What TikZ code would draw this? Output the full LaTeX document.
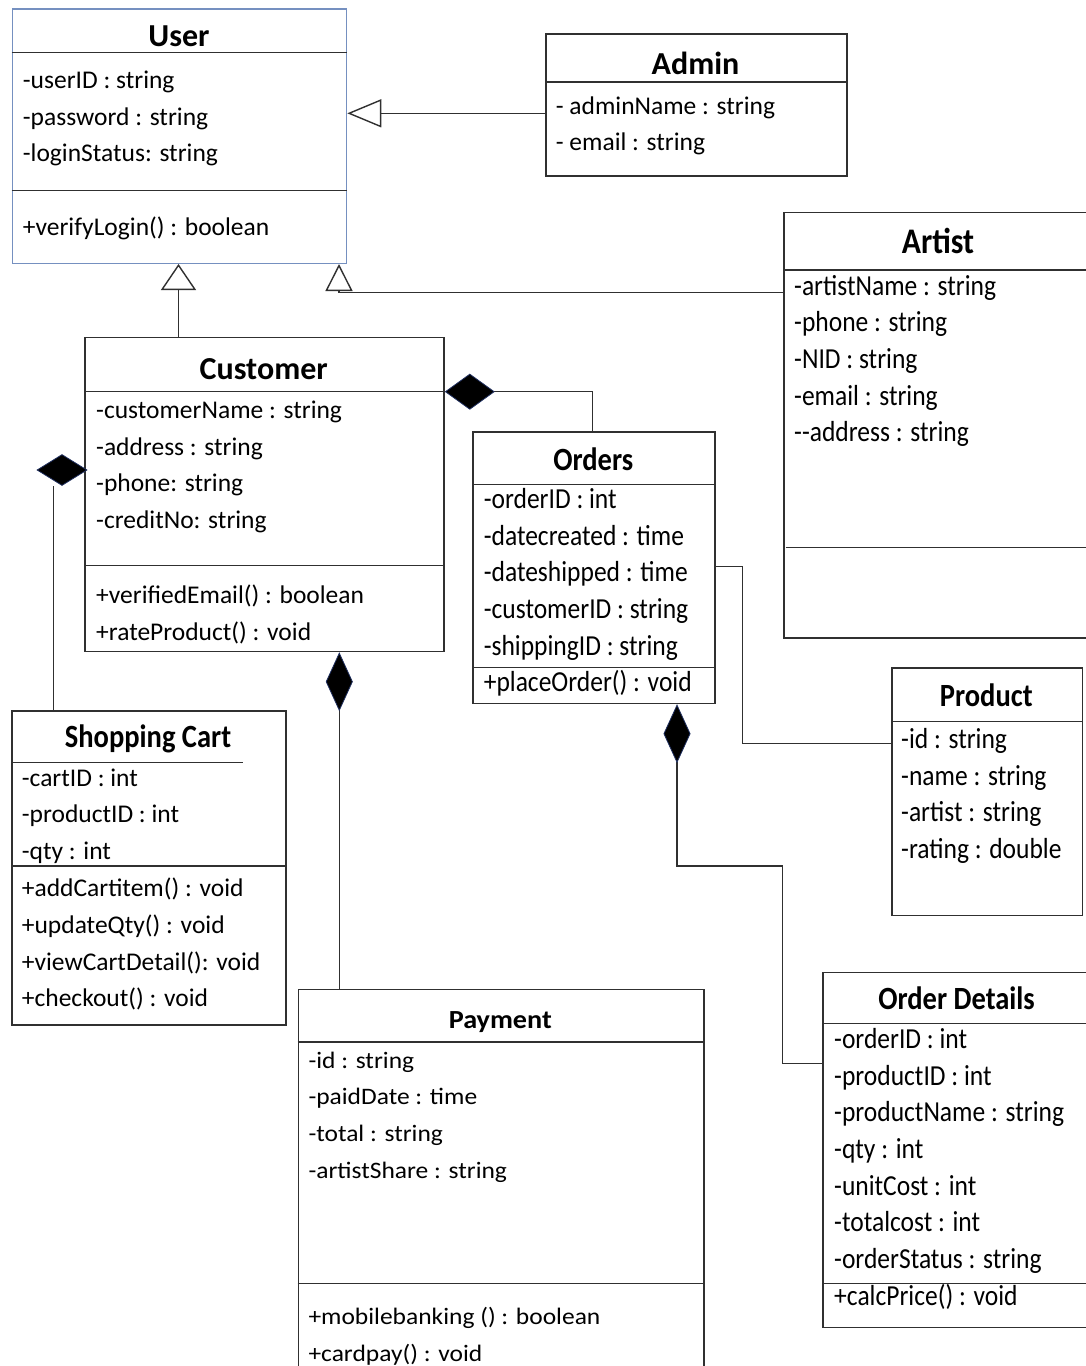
\documentclass[tikz,border=0pt]{standalone}
\usepackage{fontspec}
\setmainfont{Carlito}
\newfontfamily\condfont[FakeStretch=0.88]{Carlito}
\newfontfamily\widefont[FakeStretch=1.08]{Carlito}
\usetikzlibrary{arrows.meta,shapes.geometric}
\definecolor{edge}{HTML}{303030}
\definecolor{userblue}{HTML}{7590C0}
\definecolor{tipblue}{HTML}{1F2F5F}

% rows of class members: prefix, style, x, first baseline, list
\newcommand\classrows[5]{%
  \foreach \rowtext [count=\i from 1] in {#5} {%
    \node[#2] (#1-\i) at (#3,{#4+(\i-1)*36.7}) {\rowtext};}}

\tikzset{
  box/.style={draw=edge, line width=1.5pt, inner sep=0pt, anchor=north west, fill=white},
  rule/.style={draw=edge, line width=1.5pt},
  link/.style={draw=edge, line width=1.4pt},
  attr/.style={anchor=base west, inner sep=0pt, font=\fontsize{25.5}{30}\selectfont},
  attrC/.style={anchor=base west, inner sep=0pt, font=\condfont\fontsize{29}{34}\selectfont},
  attrW/.style={anchor=base west, inner sep=0pt, font=\widefont\fontsize{23.6}{30}\selectfont},
  ttl/.style={anchor=base, inner sep=0pt, font=\bfseries\fontsize{32}{36}\selectfont},
  ttlC/.style={anchor=base, inner sep=0pt, font=\condfont\bfseries\fontsize{32.4}{36}\selectfont},
  ttlW/.style={anchor=base, inner sep=0pt, font=\widefont\bfseries\fontsize{26.1}{30}\selectfont},
  tri/.style 2 args={-{Triangle[open,length=#1,width=#2,line join=miter,fill=white]}},
  dia/.style 2 args={-{Diamond[length=#1,width=#2,line join=miter,line width=0.8pt,color=tipblue,fill=black]}},
  diamondnode/.style={diamond, fill=black, draw=tipblue, line width=0.8pt, inner sep=0pt,
    minimum width=50pt, minimum height=31pt}
}

\begin{document}
\begin{tikzpicture}[x=1pt,y=-1pt]
\useasboundingbox (0,0) rectangle (1086,1366);
\fill[white] (0,0) rectangle (1086,1366);
\clip (0,0) rectangle (1086,1366);

% ---------- User ----------
\node[box, draw=userblue, line width=1.3pt, minimum width=334.3pt, minimum height=254.4pt] (user) at (11.7,8.3) {};
\draw[rule] (user.west |- 0,52.7) -- (user.east |- 0,52.7);
\draw[rule] (user.west |- 0,190.7) -- (user.east |- 0,190.7);
\node[ttl] (user-title) at (179,46.7) {User};
\classrows{user-a}{attr}{22.7}{88.3}{{-userID : string},{-password : string},{-loginStatus: string}}
\node[attr] (user-m1) at (22.7,235) {+verifyLogin() : boolean};

% ---------- Admin ----------
\node[box, minimum width=301pt, minimum height=141.7pt] (admin) at (545,33.3) {};
\draw[rule] (admin.west |- 0,82) -- (admin.east |- 0,82);
\node[ttl] (admin-title) at (695.5,74) {Admin};
\node[attr] (admin-a1) at (555.7,114.3) {- adminName : string};
\node[attr] (admin-a2) at (555.7,150.3) {- email : string};

% ---------- Artist ----------
\node[box, minimum width=310pt, minimum height=425.6pt] (artist) at (783,211.7) {};
\draw[rule] (artist.west |- 0,270) -- (artist.east |- 0,270);
\draw[rule] ([xshift=2.6pt]artist.west |- 0,547.7) -- (artist.east |- 0,547.7);
\node[ttlC, font=\condfont\bfseries\fontsize{36}{40}\selectfont] (artist-title) at (938,253) {Artist};
\classrows{artist-a}{attrC}{794}{295}{{-artistName : string},{-phone : string},{-NID : string},{-email : string},{--address : string}}

% ---------- Customer ----------
\node[box, minimum width=359.3pt, minimum height=314pt] (customer) at (84,336.7) {};
\draw[rule] (customer.west |- 0,391.7) -- (customer.east |- 0,391.7);
\draw[rule] (customer.west |- 0,565.3) -- (customer.east |- 0,565.3);
\node[ttl] (customer-title) at (263.7,379.3) {Customer};
\classrows{customer-a}{attr}{96}{418.3}{{-customerName : string},{-address : string},{-phone: string},{-creditNo: string}}
\classrows{customer-m}{attr}{96}{603.3}{{+verifiedEmail() : boolean},{+rateProduct() : void}}

% ---------- Orders ----------
\node[box, minimum width=241.8pt, minimum height=271.7pt] (orders) at (472.4,431) {};
\draw[rule] (orders.west |- 0,484.3) -- (orders.east |- 0,484.3);
\draw[rule] (orders.west |- 0,667.7) -- (orders.east |- 0,667.7);
\node[ttlC] (orders-title) at (593.3,470) {Orders};
\classrows{orders-a}{attrC}{483.6}{508.3}{{-orderID : int},{-datecreated : time},{-dateshipped : time},{-customerID : string},{-shippingID : string}}
\node[attrC] (orders-m1) at (483.6,691.7) {+placeOrder() : void};

% ---------- Product ----------
\node[box, minimum width=190.7pt, minimum height=247.2pt] (product) at (891,667.3) {};
\draw[rule] (product.west |- 0,721.7) -- (product.east |- 0,721.7);
\node[ttlC] (product-title) at (986.3,706) {Product};
\classrows{product-a}{attrC}{901}{748.3}{{-id : string},{-name : string},{-artist : string},{-rating : double}}

% ---------- Shopping Cart ----------
\node[box, minimum width=274pt, minimum height=314pt] (cart) at (11,710) {};
\draw[rule] (cart.west |- 0,762.3) -- (242.7,762.3);
\draw[rule] (cart.west |- 0,866) -- (cart.east |- 0,866);
\node[ttlC] (cart-title) at (148,747.7) {Shopping Cart};
\classrows{cart-a}{attr}{21.7}{786}{{-cartID : int},{-productID : int},{-qty : int}}
\classrows{cart-m}{attr}{21.7}{896.7}{{+addCartitem() : void},{+updateQty() : void},{+viewCartDetail(): void},{+checkout() : void}}

% ---------- Payment ----------
\node[box, minimum width=405.5pt, minimum height=391.4pt] (payment) at (297.5,988.6) {};
\draw[rule] (payment.west |- 0,1041.9) -- (payment.east |- 0,1041.9);
\draw[rule] (payment.west |- 0,1283.5) -- (payment.east |- 0,1283.5);
\node[ttlW] (payment-title) at (500.3,1028) {Payment};
\classrows{payment-a}{attrW}{308.3}{1068}{{-id : string},{-paidDate : time},{-total : string},{-artistShare : string}}
\classrows{payment-m}{attrW}{308.3}{1324.3}{{+mobilebanking () : boolean},{+cardpay() : void}}

% ---------- Order Details ----------
\node[box, minimum width=268.7pt, minimum height=355pt] (details) at (822.3,971.7) {};
\draw[rule] (details.west |- 0,1023.7) -- (details.east |- 0,1023.7);
\draw[rule] (details.west |- 0,1283.3) -- (details.east |- 0,1283.3);
\node[ttlC] (details-title) at (956.6,1009.3) {Order Details};
\classrows{details-a}{attrC}{834}{1048.3}{{-orderID : int},{-productID : int},{-productName : string},{-qty : int},{-unitCost : int},{-totalcost : int},{-orderStatus : string}}
\node[attrC] (details-m1) at (834,1305) {+calcPrice() : void};

% ---------- generalisations ----------
\draw[link, tri={34pt}{28pt}] (admin.west |- 0,113.3) -- (user.east |- 0,113.3);
\draw[link, tri={26pt}{35pt}] (customer.north -| 178.5,0) -- (user.south -| 178.5,0);
\draw[link, tri={27pt}{27pt}] (artist.west |- 0,292.5) -| (user.south -| 339,0);

% ---------- compositions ----------
\draw[link, dia={50pt}{36pt}] (orders.north -| 592.5,0) |- (customer.east |- 0,391.7);
\draw[link, dia={59pt}{27pt}] (payment.north -| 339.3,0) -- (customer.south -| 339.3,0);
\draw[link, dia={59pt}{27pt}] (details.west |- 0,1063.3) -- (782.6,1063.3) |- (677,866) -- (orders.south -| 677,0);
\node[diamondnode] (dcart) at (62,470) {};
\draw[link] (cart.north -| 53.3,0) -- (dcart.south -| 53.3,0);

% ---------- association ----------
\draw[link] (orders.east |- 0,566.7) -- (742.6,566.7) |- (product.west |- 0,743.3);
\end{tikzpicture}
\end{document}
